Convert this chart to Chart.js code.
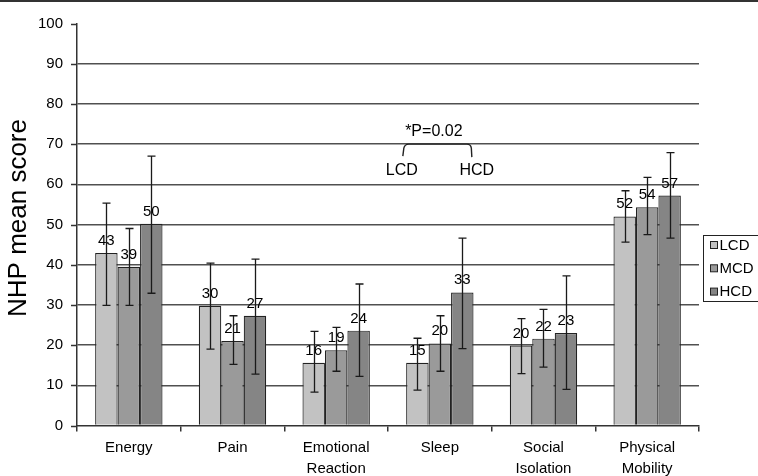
<!DOCTYPE html>
<html>
<head>
<meta charset="utf-8">
<script src="https://cdn.jsdelivr.net/npm/chart.js@4/dist/chart.umd.min.js"></script>
<style>
html,body{margin:0;padding:0;background:#fff;overflow:hidden;}
canvas{display:block;}
</style>
</head>
<body>
<canvas id="c" width="758" height="476"></canvas>
<script>
const categories = [['Energy'], ['Pain'], ['Emotional', 'Reaction'], ['Sleep'], ['Social', 'Isolation'], ['Physical', 'Mobility']];
const seriesNames = ['LCD', 'MCD', 'HCD'];
const lcdValues = [42.9, 29.8, 15.6, 15.6, 19.9, 52.0];
const mcdValues = [39.5, 21.0, 18.7, 20.4, 21.6, 54.3];
const hcdValues = [50.2, 27.3, 23.6, 33.1, 23.0, 57.2];
const lcdLabels = ['43', '30', '16', '15', '20', '52'];
const mcdLabels = ['39', '21', '19', '20', '22', '54'];
const hcdLabels = ['50', '27', '24', '33', '23', '57'];
const lcdErrHigh = [55.3, 40.4, 23.4, 21.7, 26.6, 58.4];
const lcdErrLow  = [29.9, 19.0, 8.3, 8.8, 12.9, 45.6];
const mcdErrHigh = [49.0, 27.3, 24.4, 27.3, 28.9, 61.7];
const mcdErrLow  = [29.9, 15.2, 13.5, 13.5, 14.5, 47.5];
const hcdErrHigh = [67.0, 41.4, 35.2, 46.6, 37.2, 67.9];
const hcdErrLow  = [32.9, 12.8, 12.2, 19.1, 9.0, 46.6];
const yTicks = [0, 10, 20, 30, 40, 50, 60, 70, 80, 90, 100];
const annotationText = '*P=0.02';

const colors = ['#c2c2c2', '#9a9a9a', '#858585'];
const valueSets = [lcdValues, mcdValues, hcdValues];
const labelSets = [lcdLabels, mcdLabels, hcdLabels];
const errHigh = [lcdErrHigh, mcdErrHigh, hcdErrHigh];
const errLow = [lcdErrLow, mcdErrLow, hcdErrLow];
const FONT = '"Liberation Sans", Arial, sans-serif';

const extras = {
  id: 'extras',
  afterDatasetsDraw(chart) {
    const ctx = chart.ctx;
    const y = chart.scales.y;
    ctx.save();
    ctx.fillStyle = '#000';
    ctx.font = '15px ' + FONT;
    ctx.textAlign = 'center';
    ctx.textBaseline = 'alphabetic';
    chart.data.datasets.forEach((ds, i) => {
      chart.getDatasetMeta(i).data.forEach((bar, j) => {
        ctx.fillText(labelSets[i][j], bar.x, bar.y - 8);
      });
    });
    ctx.restore();
    ctx.save();
    ctx.strokeStyle = '#1a1a1a';
    ctx.lineWidth = 1.3;
    chart.data.datasets.forEach((ds, i) => {
      chart.getDatasetMeta(i).data.forEach((bar, j) => {
        const cx = Math.round(bar.x) + 0.5;
        const yh = y.getPixelForValue(errHigh[i][j]);
        const yl = y.getPixelForValue(errLow[i][j]);
        ctx.beginPath();
        ctx.moveTo(cx, yh); ctx.lineTo(cx, yl);
        ctx.moveTo(cx - 4, yh); ctx.lineTo(cx + 4, yh);
        ctx.moveTo(cx - 4, yl); ctx.lineTo(cx + 4, yl);
        ctx.stroke();
      });
    });
    ctx.restore();
  },
  afterDraw(chart) {
    const ctx = chart.ctx;
    const x = chart.scales.x, y = chart.scales.y;
    const area = chart.chartArea;
    ctx.save();
    ctx.fillStyle = '#333';
    ctx.fillRect(0, 0, chart.width, 2);
    ctx.strokeStyle = '#333';
    ctx.lineWidth = 1.5;
    yTicks.forEach(v => {
      const py = Math.round(y.getPixelForValue(v)) + 0.5;
      ctx.beginPath();
      ctx.moveTo(area.left - 6, py);
      ctx.lineTo(area.left, py);
      ctx.stroke();
    });
    ctx.save();
    ctx.translate(19, 218);
    ctx.rotate(-Math.PI / 2);
    ctx.fillStyle = '#000';
    ctx.font = '26px ' + FONT;
    ctx.textAlign = 'center';
    ctx.textBaseline = 'middle';
    ctx.fillText('NHP mean score', 0, 0);
    ctx.restore();
    const sx = x.getPixelForValue(3);
    ctx.fillStyle = '#000';
    ctx.font = '16px ' + FONT;
    ctx.textAlign = 'center';
    ctx.textBaseline = 'middle';
    ctx.fillText(annotationText, sx - 6, y.getPixelForValue(73));
    ctx.fillText(seriesNames[0], sx - 38, y.getPixelForValue(63.3));
    ctx.fillText(seriesNames[2], sx + 37, y.getPixelForValue(63.3));
    const top = y.getPixelForValue(70);
    const leg = y.getPixelForValue(67);
    const lx = sx - 37, rx = sx + 32;
    ctx.strokeStyle = '#222';
    ctx.lineWidth = 1.4;
    ctx.beginPath();
    ctx.moveTo(lx, leg);
    ctx.lineTo(lx + 1, top + 4);
    ctx.quadraticCurveTo(lx + 2, top, lx + 6, top);
    ctx.lineTo(rx - 5, top);
    ctx.quadraticCurveTo(rx - 1, top, rx - 0.5, top + 4);
    ctx.lineTo(rx, leg + 1);
    ctx.stroke();
    const bx = area.right + 4.5, by = 235.5;
    ctx.fillStyle = '#fff';
    ctx.fillRect(bx, by, 90, 66);
    ctx.strokeStyle = '#222';
    ctx.lineWidth = 1;
    ctx.strokeRect(bx, by, 90, 66);
    ctx.font = '15px ' + FONT;
    ctx.textAlign = 'left';
    ctx.textBaseline = 'middle';
    seriesNames.forEach((n, i) => {
      const cy = 245 + i * 23.3;
      ctx.fillStyle = colors[i];
      ctx.fillRect(bx + 7, cy - 3.5, 7, 7);
      ctx.strokeStyle = '#222';
      ctx.strokeRect(bx + 7, cy - 3.5, 7, 7);
      ctx.fillStyle = '#000';
      ctx.fillText(n, bx + 16, cy + 0.5);
    });
    ctx.restore();
  }
};

new Chart(document.getElementById('c'), {
  type: 'bar',
  data: {
    labels: categories,
    datasets: seriesNames.map((n, i) => ({
      label: n,
      data: valueSets[i],
      backgroundColor: colors[i],
      borderColor: '#222',
      borderWidth: 1.2,
      categoryPercentage: 0.65,
      barPercentage: 1.0
    }))
  },
  options: {
    responsive: false,
    animation: false,
    devicePixelRatio: 1,
    layout: { padding: { top: 23.5, right: 59, left: 0, bottom: 0 } },
    plugins: { legend: { display: false }, tooltip: { enabled: false } },
    scales: {
      x: {
        afterFit: s => { s.height = 50.5; },
        grid: { drawOnChartArea: false, drawTicks: true, tickLength: 6, color: '#333', lineWidth: 1.5 },
        border: { display: true, color: '#333', width: 1.5 },
        ticks: { color: '#000', font: { family: FONT, size: 15, lineHeight: 1.4 }, padding: 6, maxRotation: 0, autoSkip: false }
      },
      y: {
        min: 0, max: 100,
        afterFit: s => { s.width = 77; },
        afterBuildTicks: s => { s.ticks = yTicks.map(v => ({ value: v })); },
        grid: {
          drawTicks: false,
          lineWidth: 1.5,
          color: c => (c.tick && (c.tick.value === 100 || c.tick.value === 0)) ? 'rgba(0,0,0,0)' : '#505050'
        },
        border: { display: true, color: '#333', width: 1.5 },
        ticks: { color: '#000', font: { family: FONT, size: 15 }, padding: 14 }
      }
    }
  },
  plugins: [extras]
});
</script>
</body>
</html>
